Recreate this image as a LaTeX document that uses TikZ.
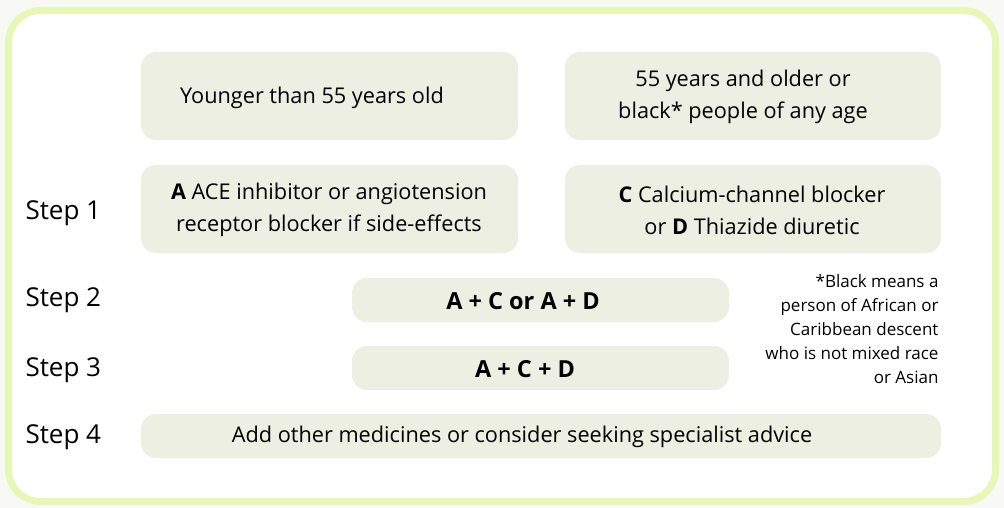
\documentclass[tikz,border=0pt]{standalone}
\usepackage{fontspec}
\setmainfont{Open Sans}
\definecolor{bgout}{HTML}{F8F8F5}
\definecolor{frame}{HTML}{E6F7B8}
\definecolor{boxfill}{HTML}{ECEFE2}
\tikzset{
  box/.style={fill=boxfill, rounded corners=15pt, draw=none},
  boxtext/.style={font=\fontsize{21.7}{32}\selectfont, align=center, text=black},
  boldtext/.style={font=\fontsize{23.5}{32}\selectfont\bfseries, align=center, text=black},
  steplabel/.style={font=\fontsize{26}{30}\selectfont, anchor=west, text=black},
  note/.style={font=\fontsize{17}{24}\selectfont, align=right, anchor=north east}
}
\begin{document}
\begin{tikzpicture}[x=1pt,y=-1pt]
\useasboundingbox (0,0) rectangle (1004,508);
\fill[bgout] (0,0) rectangle (1004,508);
\draw[frame, line width=7pt, fill=white, rounded corners=32pt] (8.5,10.5) rectangle (995.5,501.5);
% boxes
\fill[box] (141,52) rectangle (518,140);
\fill[box] (565,52) rectangle (941,140);
\fill[box] (141,165) rectangle (518,253);
\fill[box] (565,165) rectangle (941,253);
\fill[box] (352,278) rectangle (729,322);
\fill[box] (352,346) rectangle (729,390);
\fill[box] (141,414) rectangle (941,458);
% texts
\node[boxtext] (young) at (312,98) {Younger than 55 years old};
\node[boxtext] (old) at (743,97) {55 years and older or\\black* people of any age};
\node[boxtext] (a) at (329,210) {\textbf{A} ACE inhibitor or angiotension\\receptor blocker if side-effects};
\node[boxtext] (c) at (752,210) {\textbf{C} Calcium-channel blocker\\or \textbf{D} Thiazide diuretic};
\node[boldtext] (s2) at (523,301) {A + C or A + D};
\node[boldtext] (s3) at (525,369) {A + C + D};
\node[boxtext] (s4) at (522,437) {Add other medicines or consider seeking specialist advice};
\node[steplabel] (l1) at (22,213) {Step 1};
\node[steplabel] (l2) at (22,300) {Step 2};
\node[steplabel] (l3) at (22,370) {Step 3};
\node[steplabel] (l4) at (22,437) {Step 4};
\node[note] (fn) at (942,271) {*Black means a\\person of African or\\Caribbean descent\\who is not mixed race\\or Asian};
\end{tikzpicture}
\end{document}
